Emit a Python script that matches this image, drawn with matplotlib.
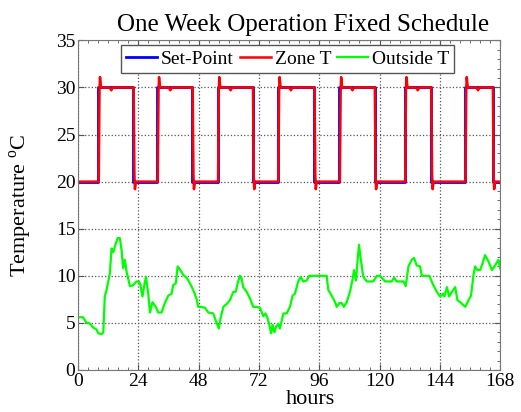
import matplotlib.pyplot as plt
from matplotlib.ticker import MultipleLocator

plt.rcParams['font.family'] = ['Liberation Serif', 'DejaVu Serif']
plt.rcParams['mathtext.fontset'] = 'custom'
plt.rcParams['mathtext.rm'] = 'Liberation Serif'

# set-point schedule (hours when it switches to 30 and back to 20)
sp_on = [8, 31.5, 55.5, 79.5, 104, 130, 154]
sp_off = [22, 45.5, 69.5, 94, 118, 140.5, 165]
sp_low, sp_high = 20, 30

# zone temperature
zone_hours = [0, 8.2, 8.5, 8.7, 9.1, 12.5, 13.2, 13.8, 22.1, 22.4, 22.6, 23.0,
              31.7, 32.0, 32.2, 32.6, 36.0, 36.7, 37.3, 45.6, 45.9, 46.1, 46.5,
              55.7, 56.0, 56.2, 56.6, 60.0, 60.7, 61.3, 69.6, 69.9, 70.1, 70.5,
              79.7, 80.0, 80.2, 80.6, 84.0, 84.7, 85.3, 94.1, 94.4, 94.6, 95.0,
              104.2, 104.5, 104.7, 105.1, 108.5, 109.2, 109.8, 118.1, 118.4, 118.6, 119.0,
              130.2, 130.5, 130.7, 131.1, 134.5, 135.2, 135.8, 140.6, 140.9, 141.1, 141.5,
              154.2, 154.5, 154.7, 155.1, 158.5, 159.2, 159.8, 165.1, 165.4, 165.6, 166.0, 168]
zone_temps = [20, 20, 29.6, 31.1, 30, 30, 29.7, 30, 30, 20.8, 19.2, 20,
              20, 29.6, 31.1, 30, 30, 29.7, 30, 30, 20.8, 19.2, 20,
              20, 29.6, 31.1, 30, 30, 29.7, 30, 30, 20.8, 19.2, 20,
              20, 29.6, 31.1, 30, 30, 29.7, 30, 30, 20.8, 19.2, 20,
              20, 29.6, 31.1, 30, 30, 29.7, 30, 30, 20.8, 19.2, 20,
              20, 29.6, 31.1, 30, 30, 29.7, 30, 30, 20.8, 19.2, 20,
              20, 29.6, 31.1, 30, 30, 29.7, 30, 30, 20.8, 19.2, 20, 20]

# outside temperature
out_hours = [0, 0.7, 2, 3.3, 4.6, 6, 7.3, 8, 9.3, 10, 10.6, 11.3, 12.6, 13.3, 14, 14.6,
             15.7, 16.6, 17.3, 17.9, 18.6, 19.3, 20.6, 21.9, 23.2, 24.2, 24.8, 25.6,
             26.2, 27, 27.9, 28.6, 29.6, 30.9, 31.9, 33.2, 34.5, 35.9, 37.2, 37.8, 38.9,
             39.6, 40.5, 41.8, 43.2, 44.5, 45.8, 47.1, 47.8, 49.1, 50.5, 51.8, 53.8, 54.7,
             56, 56.7, 57.8, 59.1, 60.4, 61.8, 62.7, 63.7, 64.4, 65.1, 65.7, 67.1, 68.4,
             69.7, 71, 72.4, 73, 73.7, 74.6, 75.4, 76.1, 76.8, 77.4, 78.1, 78.8, 79.7,
             80.3, 81.7, 83, 84.3, 85.4, 86.3, 87.6, 88.6, 89.6, 91, 92, 95.6, 98.9,
             99.6, 100.9, 102.3, 102.9, 104, 104.9, 105.8, 106.9, 108.2, 109.3, 109.8,
             110.6, 111.2, 111.8, 112.5, 113.5, 114.9, 117.5, 118.9, 120.2, 122.2, 124.8,
             125.8, 126.8, 129.5, 130.4, 131.5, 132.8, 133.7, 134.8, 136.1, 136.8, 139.8,
             141.4, 142.8, 144.1, 145.2, 145.8, 146.8, 147.7, 148.8, 150.1, 151, 152.1,
             154.1, 155.4, 156.4, 157.4, 158, 159, 160, 160.7, 162, 163.4, 164.7, 166,
             167.3, 168]
out_temps = [5.6, 5.6, 5.6, 5.0, 4.95, 4.5, 4.3, 3.9, 3.8, 4.0, 7.8, 8.5, 10.2, 12.9, 12.5, 13.1,
             14.0, 14.0, 12.7, 10.8, 11.7, 10.4, 8.9, 9.0, 9.4, 9.4, 9.0, 7.8,
             8.8, 9.9, 8.1, 6.1, 7.2, 6.7, 6.1, 6.1, 7.1, 7.9, 8.1, 9.0, 9.2,
             11.0, 10.7, 10.1, 9.8, 9.2, 8.5, 7.6, 6.7, 6.7, 6.6, 6.1, 6.0, 5.3,
             4.4, 5.5, 6.7, 7.0, 7.4, 8.3, 8.3, 9.4, 10.0, 9.7, 8.8, 8.3, 7.6,
             6.7, 6.7, 6.6, 6.2, 5.7, 6.0, 5.5, 4.8, 3.9, 4.8, 4.0, 4.6, 4.9,
             4.4, 6.0, 6.0, 6.7, 7.9, 8.1, 9.4, 9.9, 9.4, 9.5, 10.0, 10.0, 10.0,
             8.5, 7.9, 7.2, 6.7, 7.1, 7.1, 6.7, 7.2, 8.3, 9.7, 10.6,
             9.5, 11.5, 13.3, 11.8, 9.9, 9.4, 9.4, 10.0, 10.0, 9.4, 9.4,
             9.8, 9.4, 9.4, 8.9, 11.0, 11.7, 11.9, 11.1, 11.0, 10.0, 10.0,
             9.0, 8.3, 7.8, 8.1, 7.8, 8.8, 7.8, 8.3, 8.8, 7.4, 7.2,
             6.7, 7.4, 7.9, 10.1, 11.0, 10.6, 10.6, 11.1, 12.2, 11.5, 10.6, 11.1,
             11.7, 10.8]

# build the step line of the set-point from the schedule
sp_x, sp_y = [0], [sp_low]
for on, off in zip(sp_on, sp_off):
    sp_x += [on, on, off, off]
    sp_y += [sp_low, sp_high, sp_high, sp_low]
sp_x.append(168)
sp_y.append(sp_low)

fig = plt.figure(figsize=(5.21, 4.12), dpi=100)
ax = fig.add_axes([0.150, 0.102, 0.810, 0.800])

ax.plot(sp_x, sp_y, color='#0000ff', lw=2.0, label='Set-Point')
ax.plot(zone_hours, zone_temps, color='#ff0000', lw=1.8, label='Zone T')
ax.plot(out_hours, out_temps, color='#00ff00', lw=1.6, label='Outside T')

ax.set_xlim(0, 168)
ax.set_ylim(0, 35)
ax.xaxis.set_major_locator(MultipleLocator(24))
ax.xaxis.set_minor_locator(MultipleLocator(4))
ax.yaxis.set_major_locator(MultipleLocator(5))
ax.yaxis.set_minor_locator(MultipleLocator(1))
ax.tick_params(which='both', direction='in', top=True, right=True, labelsize=14,
               color='#555555', pad=2)
ax.tick_params(which='major', length=4)
ax.tick_params(which='minor', length=2)
ax.tick_params(axis='y', which='minor', left=False)
for s in ax.spines.values():
    s.set_color('#777777')
ax.grid(True, which='major', ls=':', color='#555555', lw=0.9)

ax.set_title('One Week Operation Fixed Schedule', fontsize=18, x=0.533, pad=7)
ax.set_xlabel('hours', fontsize=16)
ax.xaxis.set_label_coords(0.55, -0.062)
ax.set_ylabel('Temperature $^{\\mathrm{o}}$C', fontsize=16)
ax.yaxis.set_label_coords(-0.105, 0.5)

leg = ax.legend(loc='upper center', bbox_to_anchor=(0.496, 0.985), ncol=3, fontsize=14,
                frameon=True, fancybox=False, edgecolor='#555555', framealpha=1,
                handlelength=1.6, handletextpad=0.2, columnspacing=0.3,
                borderpad=0.25, borderaxespad=0)
leg.get_frame().set_linewidth(1.0)

fig.savefig('out.png', dpi=100)
